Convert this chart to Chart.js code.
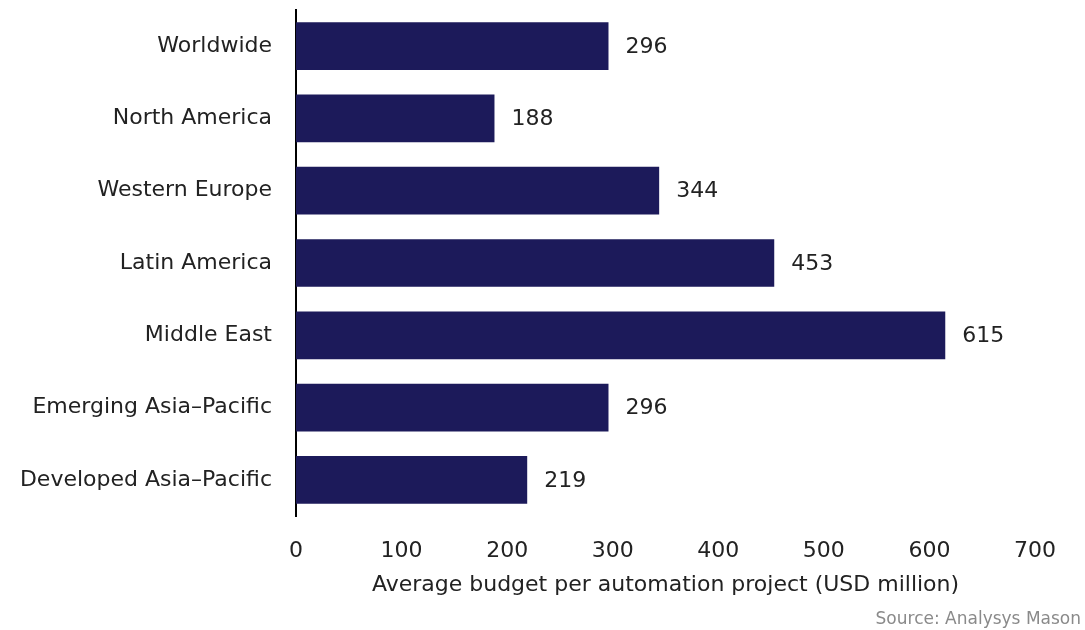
<!DOCTYPE html>
<html>
<head>
<meta charset="utf-8">
<title>Average budget per automation project</title>
<script src="https://cdn.jsdelivr.net/npm/chart.js@4.4.1/dist/chart.umd.min.js"></script>
<style>
  html, body { margin: 0; padding: 0; background: #fff; }
  #wrap { width: 1085px; height: 630px; position: relative; }
</style>
</head>
<body>
<div id="wrap"><canvas id="budgetChart"></canvas></div>
<script>
// regions and their average budget (USD million)
const regions = [
    "Worldwide",
    "North America",
    "Western Europe",
    "Latin America",
    "Middle East",
    "Emerging Asia\u2013Pacific",
    "Developed Asia\u2013Pacific"
];
const budgets = [296, 188, 344, 453, 615, 296, 219];
const xTicks = [0, 100, 200, 300, 400, 500, 600, 700];

const FONT = "'DejaVu Sans', Verdana, sans-serif";
const barColor = "#1c1a5a";
const textColor = "#222";

// writes the number at the end of each bar, plus the source line
const valueLabels = {
    id: "valueLabels",
    afterDatasetsDraw(chart) {
        const ctx = chart.ctx;
        const meta = chart.getDatasetMeta(0);
        ctx.save();
        ctx.font = "22px " + FONT;
        ctx.fillStyle = textColor;
        ctx.textAlign = "left";
        ctx.textBaseline = "middle";
        meta.data.forEach((bar, i) => {
            ctx.fillText(budgets[i], bar.x + 17, bar.y + 1);
        });

        ctx.font = "17px " + FONT;
        ctx.fillStyle = "#8a8a8a";
        ctx.textAlign = "right";
        ctx.fillText("Source: Analysys Mason", chart.width - 4, 620);
        ctx.restore();
    }
};

new Chart(document.getElementById("budgetChart"), {
    type: "bar",
    data: {
        labels: regions,
        datasets: [{
            data: budgets,
            backgroundColor: barColor,
            borderWidth: 0,
            barPercentage: 0.66,
            categoryPercentage: 1
        }]
    },
    options: {
        indexAxis: "y",
        responsive: true,
        maintainAspectRatio: false,
        animation: false,
        layout: { padding: { top: 10, right: 50, bottom: 28, left: 0 } },
        plugins: {
            legend: { display: false },
            tooltip: { enabled: false }
        },
        scales: {
            x: {
                min: 0,
                max: 700,
                afterBuildTicks(scale) {
                    scale.ticks = xTicks.map(v => ({ value: v }));
                },
                afterFit(scale) {
                    // tick row + axis title
                    scale.height = 86;
                },
                grid: { display: false, drawTicks: false },
                border: { display: false },
                ticks: {
                    padding: 22,
                    color: textColor,
                    font: { family: FONT, size: 22 }
                },
                title: {
                    display: true,
                    text: "Average budget per automation project (USD million)",
                    color: textColor,
                    font: { family: FONT, size: 22 },
                    padding: { top: 8, bottom: 4 }
                }
            },
            y: {
                afterFit(scale) {
                    // fixed label column; bars are offset so no edge padding needed
                    scale.width = 296;
                    scale.paddingTop = 0;
                    scale.paddingBottom = 0;
                },
                grid: { display: false, drawTicks: false },
                border: { display: true, color: "#000", width: 2 },
                ticks: {
                    padding: 24,
                    color: textColor,
                    font: { family: FONT, size: 22 }
                }
            }
        }
    },
    plugins: [valueLabels]
});
</script>
</body>
</html>
